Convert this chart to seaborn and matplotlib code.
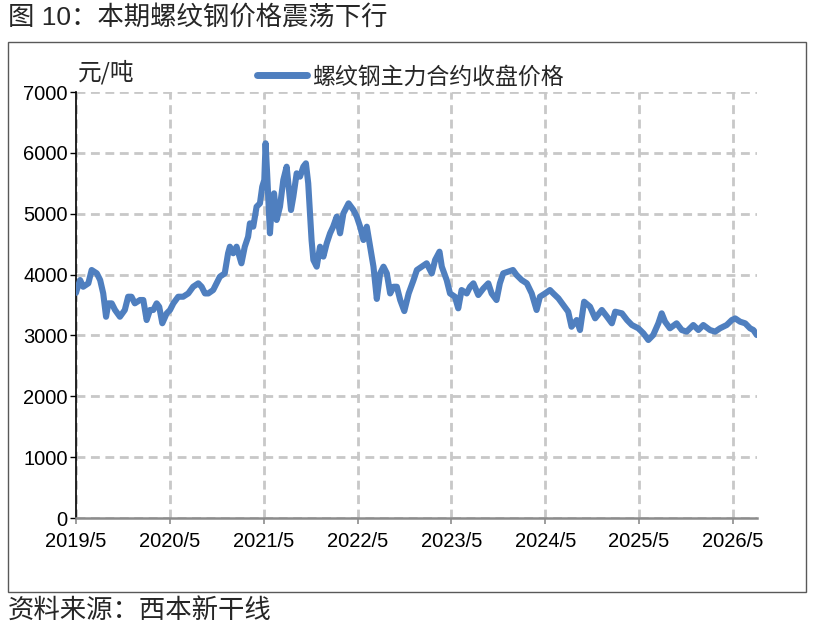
import matplotlib
matplotlib.use("Agg")
import matplotlib.pyplot as plt
import matplotlib.dates as mdates
from matplotlib.patches import Rectangle
from matplotlib.ticker import FuncFormatter
import seaborn as sns
import pandas as pd

title_text = "图 10：本期螺纹钢价格震荡下行"
source_text = "资料来源：西本新干线"
unit_text = "元/吨"
series_name = "螺纹钢主力合约收盘价格"

dates = [
    "2019-05-01", "2019-05-04", "2019-05-17", "2019-05-29", "2019-06-18", "2019-07-01",
    "2019-07-21", "2019-08-03", "2019-08-15", "2019-08-26", "2019-09-04", "2019-09-17",
    "2019-09-30", "2019-10-19", "2019-11-07", "2019-11-20", "2019-12-03", "2019-12-16",
    "2020-01-05", "2020-01-18", "2020-01-31", "2020-02-13", "2020-02-26", "2020-03-10",
    "2020-03-20", "2020-04-01", "2020-04-18", "2020-05-01", "2020-05-14", "2020-06-02",
    "2020-06-21", "2020-07-11", "2020-07-30", "2020-08-19", "2020-09-01", "2020-09-14",
    "2020-09-27", "2020-10-16", "2020-11-11", "2020-11-30", "2020-12-13", "2020-12-20",
    "2021-01-02", "2021-01-15", "2021-02-03", "2021-02-16", "2021-03-01", "2021-03-08",
    "2021-03-21", "2021-04-03", "2021-04-16", "2021-04-25", "2021-05-03", "2021-05-08",
    "2021-05-14", "2021-05-25", "2021-06-01", "2021-06-10", "2021-06-20", "2021-07-03",
    "2021-07-16", "2021-07-29", "2021-08-07", "2021-08-15", "2021-08-24", "2021-09-06",
    "2021-09-19", "2021-10-02", "2021-10-12", "2021-10-21", "2021-11-03", "2021-11-10",
    "2021-11-23", "2021-12-06", "2021-12-19", "2022-01-01", "2022-01-14", "2022-01-26",
    "2022-02-09", "2022-02-22", "2022-03-07", "2022-03-27", "2022-04-15", "2022-04-28",
    "2022-05-11", "2022-05-24", "2022-06-06", "2022-06-19", "2022-07-02", "2022-07-15",
    "2022-07-28", "2022-08-10", "2022-08-23", "2022-09-05", "2022-09-18", "2022-10-01",
    "2022-10-14", "2022-10-30", "2022-11-16", "2022-12-05", "2022-12-18", "2023-01-06",
    "2023-01-25", "2023-02-14", "2023-02-27", "2023-03-16", "2023-03-25", "2023-04-13",
    "2023-04-26", "2023-05-15", "2023-05-28", "2023-06-10", "2023-06-30", "2023-07-13",
    "2023-07-26", "2023-08-14", "2023-09-03", "2023-09-22", "2023-10-05", "2023-10-24",
    "2023-11-06", "2023-11-19", "2023-12-08", "2023-12-27", "2024-01-10", "2024-01-30",
    "2024-02-19", "2024-03-09", "2024-03-28", "2024-04-10", "2024-04-30", "2024-05-19",
    "2024-06-01", "2024-06-21", "2024-07-10", "2024-07-29", "2024-08-11", "2024-08-31",
    "2024-09-13", "2024-09-29", "2024-10-22", "2024-11-11", "2024-12-07", "2024-12-27",
    "2025-01-15", "2025-01-28", "2025-02-23", "2025-03-15", "2025-04-03", "2025-04-28",
    "2025-05-18", "2025-06-06", "2025-06-25", "2025-07-15", "2025-07-28", "2025-08-10",
    "2025-08-29", "2025-09-24", "2025-10-14", "2025-11-02", "2025-11-28", "2025-12-18",
    "2026-01-06", "2026-02-01", "2026-02-21", "2026-03-12", "2026-04-07", "2026-04-27",
    "2026-05-10", "2026-05-29", "2026-06-18", "2026-07-07", "2026-07-20", "2026-08-02",
]

prices = [
    3700, 3746, 3910, 3800, 3856, 4075,
    4020, 3910, 3690, 3307, 3527, 3527,
    3418, 3307, 3418, 3636, 3636, 3527,
    3582, 3582, 3253, 3418, 3418, 3527,
    3470, 3200, 3363, 3418, 3527, 3636,
    3636, 3690, 3800, 3856, 3800, 3690,
    3690, 3746, 3965, 4020, 4350, 4458,
    4350, 4458, 4185, 4458, 4622, 4842,
    4787, 5115, 5170, 5444, 5554, 6157,
    5664, 4678, 5115, 5335, 4897, 5115,
    5554, 5773, 5390, 5061, 5280, 5664,
    5609, 5773, 5828, 5500, 4568, 4240,
    4130, 4458, 4295, 4513, 4678, 4787,
    4952, 4678, 5006, 5170, 5061, 4952,
    4787, 4568, 4787, 4458, 4130, 3600,
    4020, 4130, 4020, 3690, 3800, 3800,
    3582, 3400, 3690, 3910, 4075, 4130,
    4185, 4020, 4240, 4376, 4130, 3910,
    3690, 3636, 3445, 3746, 3690, 3800,
    3856, 3664, 3773, 3856, 3690, 3582,
    3856, 4020, 4048, 4075, 3993, 3910,
    3856, 3690, 3418, 3636, 3690, 3746,
    3690, 3609, 3500, 3390, 3143, 3253,
    3089, 3554, 3472, 3281, 3418, 3308,
    3199, 3390, 3363, 3253, 3171, 3117,
    3034, 2925, 3007, 3199, 3363, 3226,
    3117, 3199, 3089, 3062, 3171, 3089,
    3171, 3089, 3062, 3117, 3171, 3253,
    3280, 3226, 3199, 3117, 3089, 3007,
]

y_ticks = [0, 1000, 2000, 3000, 4000, 5000, 6000, 7000]

df = pd.DataFrame({"date": pd.to_datetime(dates), "price": prices})

sns.set_theme(style="white")
plt.rcParams["font.family"] = ["Liberation Sans", "Noto Sans CJK SC", "DejaVu Sans"]
plt.rcParams["axes.unicode_minus"] = False

W, H = 816, 631
fig = plt.figure(figsize=(W / 100, H / 100), dpi=100)
fig.patch.set_facecolor("white")

left_px, right_px, top_px, bottom_px = 76, 757, 92, 518
ax = fig.add_axes([left_px / W, 1 - bottom_px / H,
                   (right_px - left_px) / W, (bottom_px - top_px) / H])

line_color = "#4F7FBF"
sns.lineplot(data=df, x="date", y="price", ax=ax, color=line_color,
             linewidth=4.4, label=series_name, legend=False,
             solid_capstyle="round", solid_joinstyle="round", zorder=3)

ax.set_xlim(pd.Timestamp("2019-05-01"), pd.Timestamp("2026-08-03"))
ax.set_ylim(0, 7000)
ax.set_yticks(y_ticks)
ax.xaxis.set_major_locator(mdates.MonthLocator(bymonth=5, bymonthday=1))
ax.xaxis.set_major_formatter(FuncFormatter(
    lambda v, p: f"{mdates.num2date(v).year}/{mdates.num2date(v).month}"))

ax.set_xlabel("")
ax.set_ylabel("")

ax.grid(True, color="#C8C8C8", linestyle=(0, (3.2, 2.0)), linewidth=2.0, zorder=0)
ax.set_axisbelow(True)

for s in ["top", "right"]:
    ax.spines[s].set_visible(False)
ax.spines["left"].set_color("black")
ax.spines["left"].set_linewidth(1.2)
ax.spines["bottom"].set_color("#8C8C8C")
ax.spines["bottom"].set_linewidth(1.8)

ax.tick_params(axis="y", which="major", direction="out", length=4, width=1,
               color="black", labelsize=14.5, pad=2, left=True, labelcolor="black")
ax.tick_params(axis="x", which="major", direction="out", length=4, width=1.2,
               color="#8C8C8C", labelsize=14.5, pad=6, bottom=True, labelcolor="black")

handles, labels = ax.get_legend_handles_labels()
leg = fig.legend(handles, labels, loc="center left",
                 bbox_to_anchor=(257 / W, 1 - 77 / H), frameon=False,
                 fontsize=16.5, handlelength=2.2, handletextpad=0.2,
                 borderpad=0, borderaxespad=0)
for lh in leg.get_lines():
    lh.set_linewidth(5)
    lh.set_solid_capstyle("round")

fig.text(78 / W, 1 - 72 / H, unit_text, fontsize=17, va="center", ha="left",
         family=["Noto Sans CJK SC", "DejaVu Sans"])

fig.text(8 / W, 1 - 17 / H, title_text, fontsize=19, va="center", ha="left",
         family=["Liberation Sans", "Noto Sans CJK SC"])
fig.text(8 / W, 1 - 610 / H, source_text, fontsize=19, va="center", ha="left",
         family=["Noto Sans CJK SC", "DejaVu Sans"])

box = Rectangle((8 / W, 1 - 592 / H), 798 / W, 550 / H, transform=fig.transFigure,
                fill=False, edgecolor="#595959", linewidth=1.0)
fig.patches.append(box)

fig.savefig("out.png", dpi=100, facecolor="white")
